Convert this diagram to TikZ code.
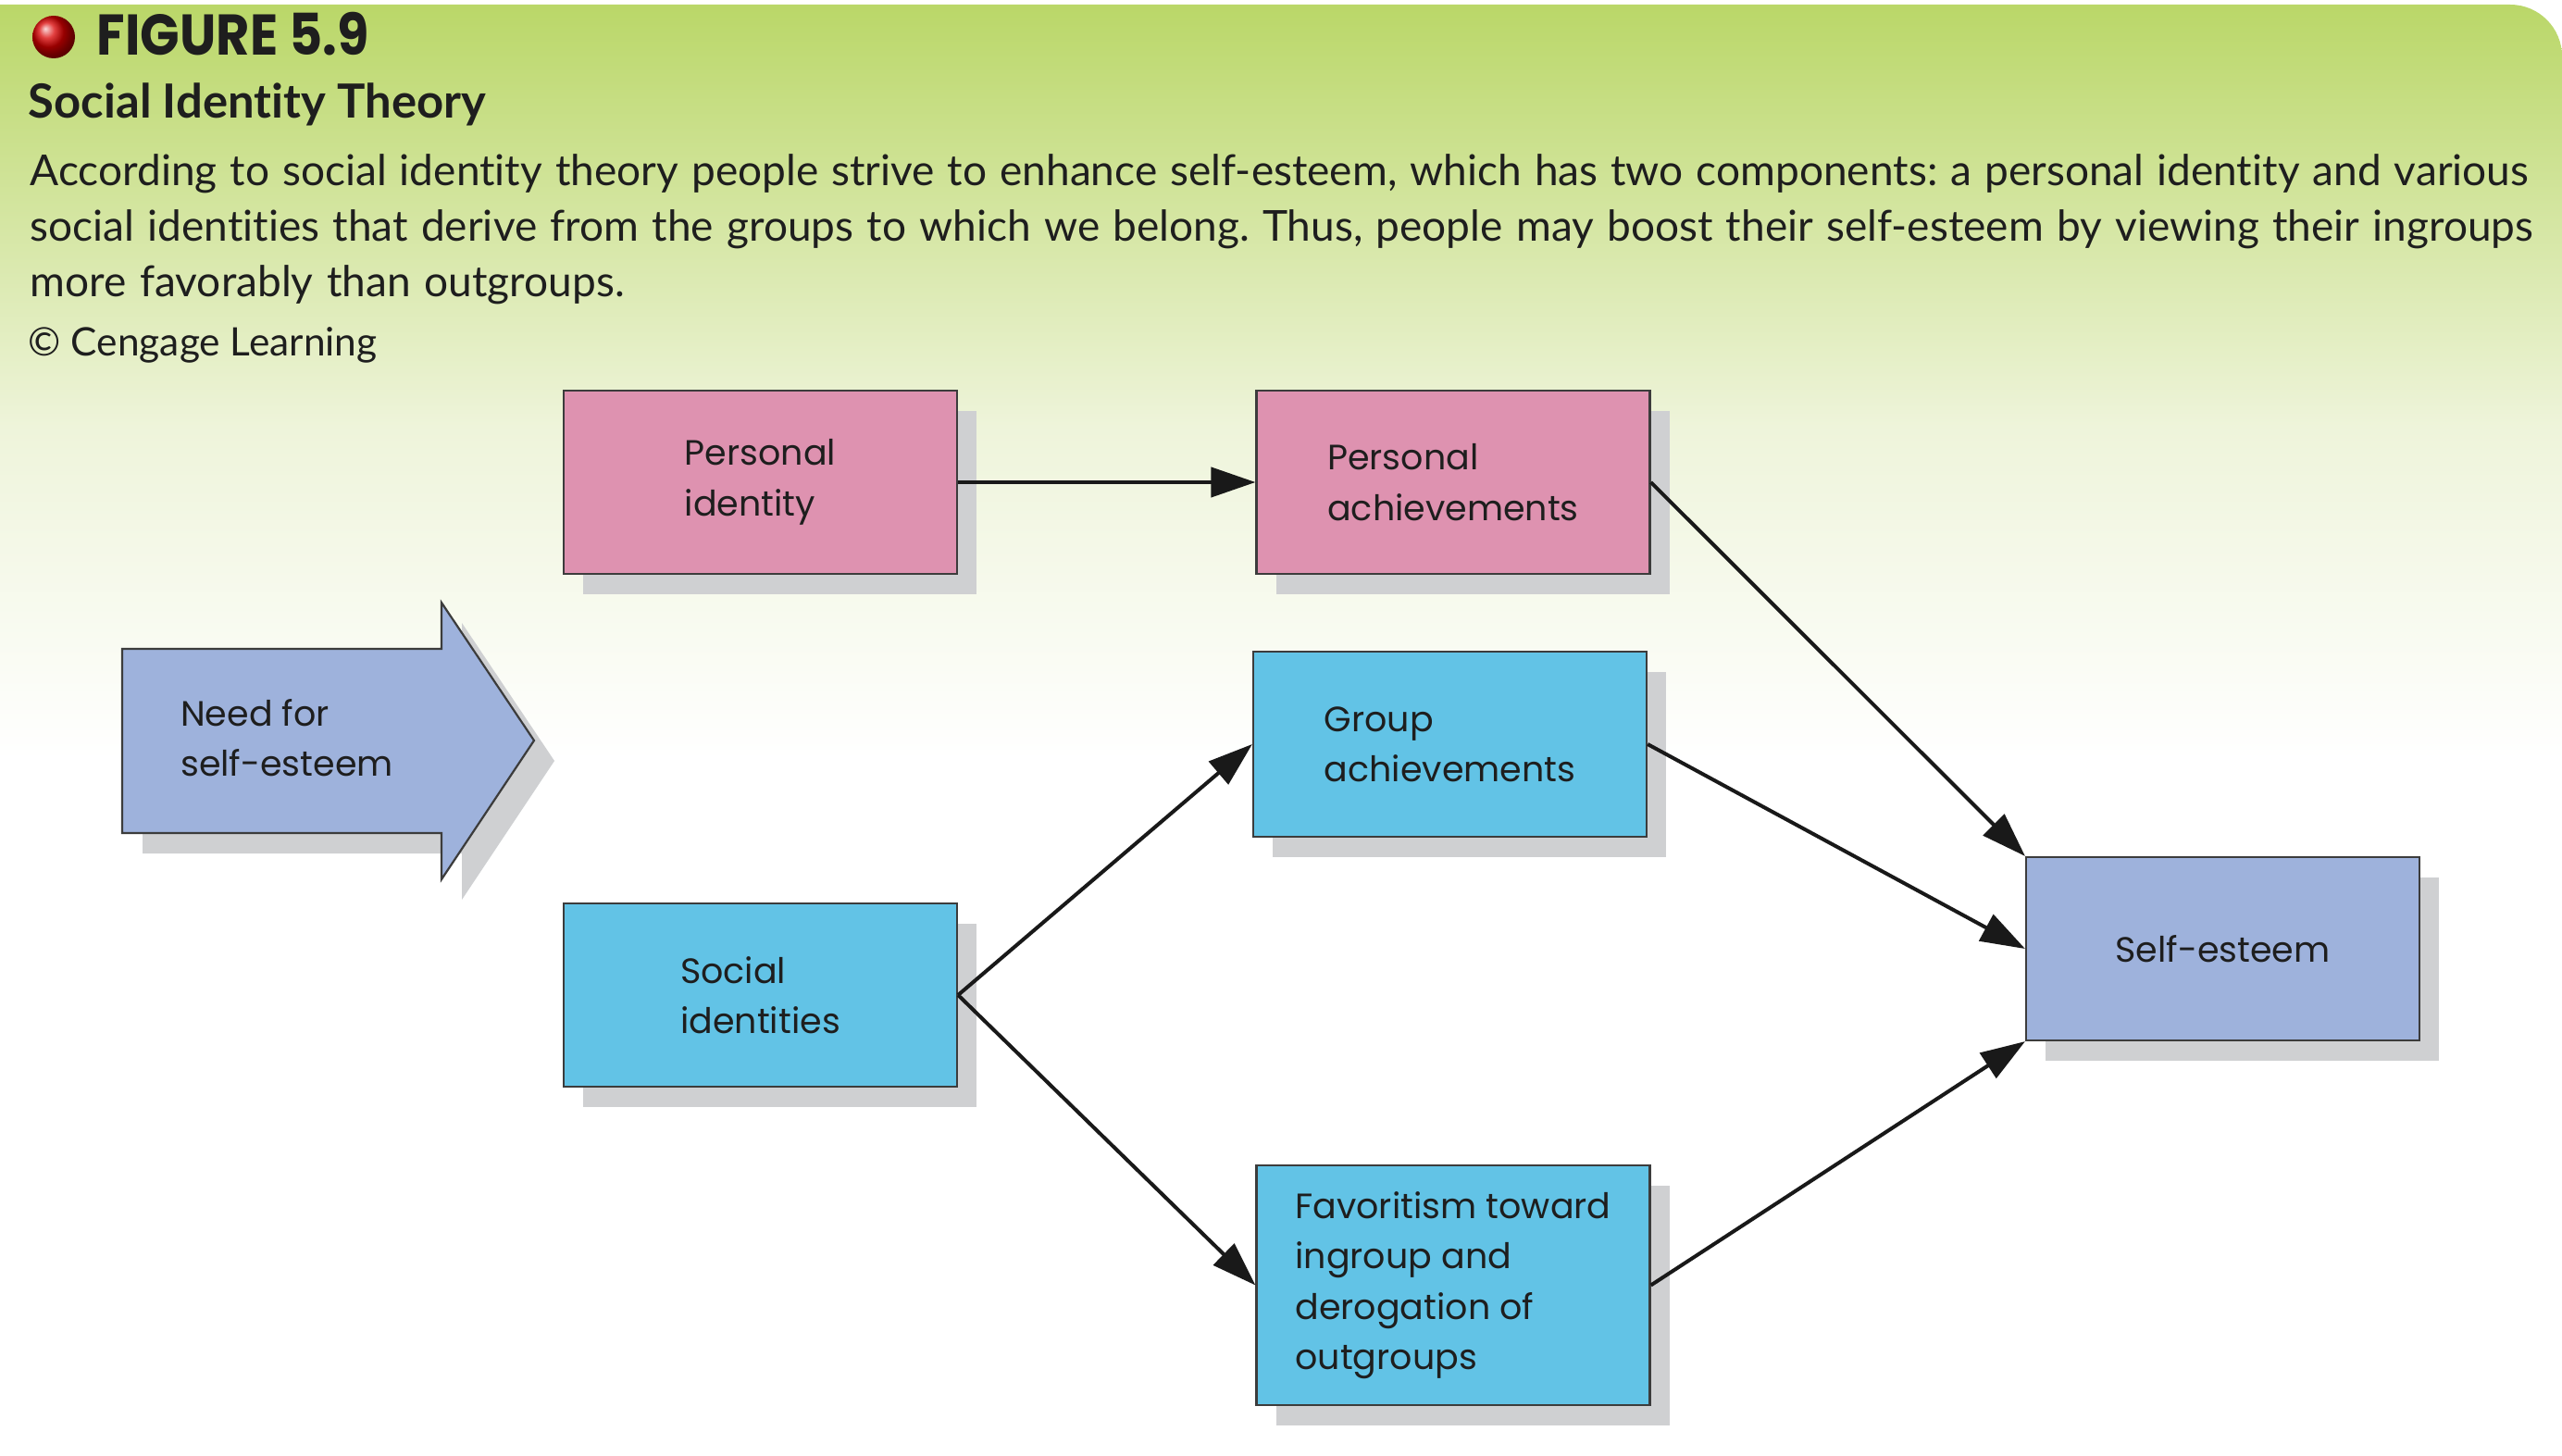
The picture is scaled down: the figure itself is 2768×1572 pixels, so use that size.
\documentclass[tikz,border=0pt]{standalone}
\usepackage{fontspec}
\setmainfont[Ligatures=NoCommon]{Lato}
\newfontfamily\boxfnt{Poppins}
\newfontfamily\headfnt[FakeStretch=0.9]{Poppins}
\usetikzlibrary{arrows.meta,shadows}
\frenchspacing
\definecolor{pinkbox}{RGB}{222,146,176}
\definecolor{cyanbox}{RGB}{98,195,230}
\definecolor{bluebox}{RGB}{158,178,220}
\definecolor{shadowgray}{RGB}{207,208,210}
\definecolor{boxline}{RGB}{60,60,60}
\definecolor{arrowblack}{RGB}{25,25,25}
\definecolor{greentop}{RGB}{186,215,104}
\definecolor{greenmid}{RGB}{238,244,218}
\definecolor{textdark}{RGB}{30,30,30}
\begin{document}
\begin{tikzpicture}[x=0.25pt,y=-0.25pt,
  box/.style={draw=boxline,line width=0.55pt,inner sep=0pt,align=left,text=textdark,
    font=\boxfnt\fontsize{9.5}{13.6}\selectfont,
    minimum width=106.25pt,minimum height=49.5pt,
    drop shadow={shadow xshift=5.25pt,shadow yshift=-5.5pt,fill=shadowgray,opacity=1}},
  conn/.style={line width=1pt,draw=arrowblack,-{Triangle[length=12pt,width=8pt]}},
  bodytxt/.style={anchor=base west,inner sep=0pt,text=textdark,font=\fontsize{11.5}{15}\selectfont},
]
\useasboundingbox (0,0) rectangle (2768,1572);
% background
\fill[white] (0,0) rectangle (2768,1572);
\shade[top color=greentop,bottom color=greenmid]
  (0,460) -- (0,5) [rounded corners=14pt] -- (2768,5) [sharp corners] -- (2768,460) -- cycle;
\shade[top color=greenmid,bottom color=white] (0,459) rectangle (2768,820);

% header
\shade[ball color=red!85!black] (58,40) circle[radius=23];
\node[anchor=base west,inner sep=0pt,text=textdark,font=\headfnt\bfseries\fontsize{15.5}{18}\selectfont] (fig) at (104,60) {FIGURE 5.9};
\node[anchor=base west,inner sep=0pt,text=textdark,font=\bfseries\fontsize{12.7}{15}\selectfont] (ttl) at (30,128) {Social Identity Theory};
\node[bodytxt] (l1) at (32,201) {\makebox[674.75pt][s]{According to social identity theory people strive to enhance self-esteem, which has two components: a personal identity and various}};
\node[bodytxt] (l2) at (32,261) {\makebox[676pt][s]{social identities that derive from the groups to which we belong. Thus, people may boost their self-esteem by viewing their ingroups}};
\node[bodytxt] (l3) at (32,321) {\makebox[160.5pt][s]{more favorably than outgroups.}};
\node[bodytxt,font=\fontsize{10.6}{14}\selectfont] (l4) at (30,384) {© Cengage Learning};

% big arrow
\fill[shadowgray] (154,723) -- (499,723) -- (499,673) -- (599,822) -- (499,972) -- (499,922) -- (154,922) -- cycle;
\filldraw[fill=bluebox,draw=boxline,line width=0.55pt] (132,701) -- (477,701) -- (477,651) -- (577,800) -- (477,950) -- (477,900) -- (132,900) -- cycle;
\node[align=left,inner sep=0pt,text=textdark,font=\boxfnt\fontsize{9.5}{13.6}\selectfont] (need) at (310,797) {Need for\\self-esteem};

% boxes
\node[box,fill=pinkbox] (pi) at (821.5,521) {Personal\\identity};
\node[box,fill=pinkbox] (pa) at (1570,521) {Personal\\achievements};
\node[box,fill=cyanbox,minimum height=50pt] (ga) at (1566.5,804) {Group\\achievements};
\node[box,fill=cyanbox] (si) at (821.5,1075) {Social\\identities};
\node[box,fill=cyanbox,minimum height=64.75pt] (fav) at (1570,1388.5) {Favoritism toward\\ingroup and\\derogation of\\outgroups};
\node[box,fill=bluebox] (se) at (2401.5,1025) {Self-esteem};

% connectors
\draw[conn] (pi.east) -- (pa.west);
\draw[conn] (pa.east) -- (se.north west);
\draw[conn] (ga.east) -- (se.west);
\draw[conn] (fav.east) -- (se.south west);
\draw[conn] (si.east) -- (ga.west);
\draw[conn] (si.east) -- (fav.west);
\end{tikzpicture}
\end{document}
